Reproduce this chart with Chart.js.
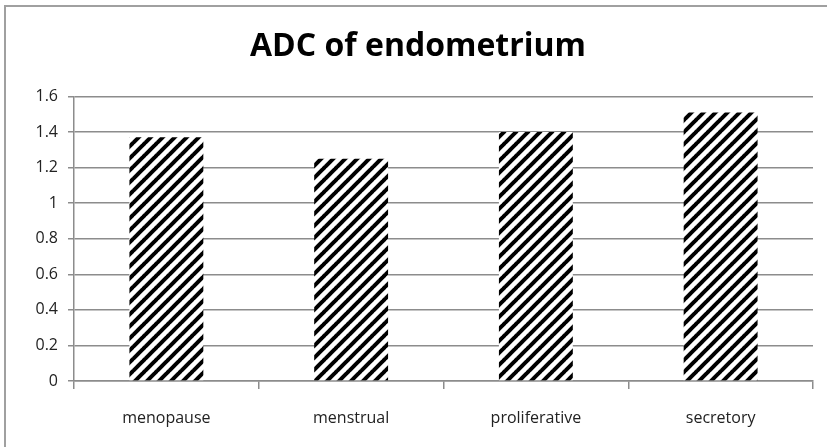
<!DOCTYPE html>
<html>
<head>
<meta charset="utf-8">
<script src="https://cdn.jsdelivr.net/npm/chart.js@4"></script>
<style>
  html, body { margin: 0; padding: 0; background: #fff; }
  #wrap { position: relative; width: 827px; height: 447px; overflow: hidden; }
  #frame { position: absolute; left: 4px; top: 5px; width: 900px; height: 500px; border: 2px solid #a0a0a0; box-sizing: border-box; }
  canvas { position: absolute; left: 0; top: 0; }
</style>
</head>
<body>
<div id="wrap">
  <div id="frame"></div>
  <canvas id="adc_chart" width="827" height="447"></canvas>
</div>
<script>
const phases = ['menopause', 'menstrual', 'proliferative', 'secretory'];
const adc_values = [1.37, 1.25, 1.40, 1.51];
const y_ticks = [0, 0.2, 0.4, 0.6, 0.8, 1, 1.2, 1.4, 1.6];

// diagonal hatch like the old excel pattern fill
function make_hatch() {
    const p = 12;
    const c = document.createElement('canvas');
    c.width = p;
    c.height = p;
    const ctx = c.getContext('2d');
    ctx.fillStyle = '#fff';
    ctx.fillRect(0, 0, p, p);
    ctx.strokeStyle = '#000';
    ctx.lineWidth = 4;
    for (let k = -1; k <= 1; k++) {
        ctx.beginPath();
        ctx.moveTo(k * p - 1, p + 1);
        ctx.lineTo(k * p + p + 1, -1);
        ctx.stroke();
    }
    return ctx.createPattern(c, 'repeat');
}

const canvas = document.getElementById('adc_chart');
const hatch = make_hatch();

new Chart(canvas, {
    type: 'bar',
    data: {
        labels: phases,
        datasets: [{
            data: adc_values,
            backgroundColor: hatch,
            borderWidth: 0,
            categoryPercentage: 1.0,
            barPercentage: 0.4
        }]
    },
    options: {
        responsive: false,
        animation: false,
        layout: {
            padding: { left: 23, right: 14, top: 0, bottom: 0 }
        },
        plugins: {
            legend: { display: false },
            tooltip: { enabled: false },
            title: {
                display: true,
                text: 'ADC of endometrium',
                color: '#000',
                font: { family: 'Open Sans', size: 32, weight: 'bold' },
                padding: { top: 28, bottom: 30 }
            }
        },
        scales: {
            x: {
                afterFit: (scale) => {
                    scale.height = 66;
                },
                grid: {
                    offset: true,
                    drawOnChartArea: false,
                    drawTicks: true,
                    tickLength: 8,
                    color: '#8c8c8c',
                    lineWidth: 1.5
                },
                border: { color: '#8c8c8c', width: 1.5 },
                ticks: {
                    color: '#222',
                    font: { family: 'Open Sans', size: 16 },
                    padding: 20
                }
            },
            y: {
                min: 0,
                max: 1.6,
                afterBuildTicks: (scale) => {
                    scale.ticks = y_ticks.map(v => ({ value: v }));
                },
                afterFit: (scale) => {
                    scale.width = 51;
                },
                grid: {
                    color: '#8c8c8c',
                    lineWidth: 1.5,
                    tickLength: 6
                },
                border: { color: '#8c8c8c', width: 1.5 },
                ticks: {
                    color: '#222',
                    font: { family: 'Open Sans', size: 16 },
                    padding: 10,
                    callback: (v) => String(Number(v.toFixed(1)))
                }
            }
        }
    }
});
</script>
</body>
</html>
